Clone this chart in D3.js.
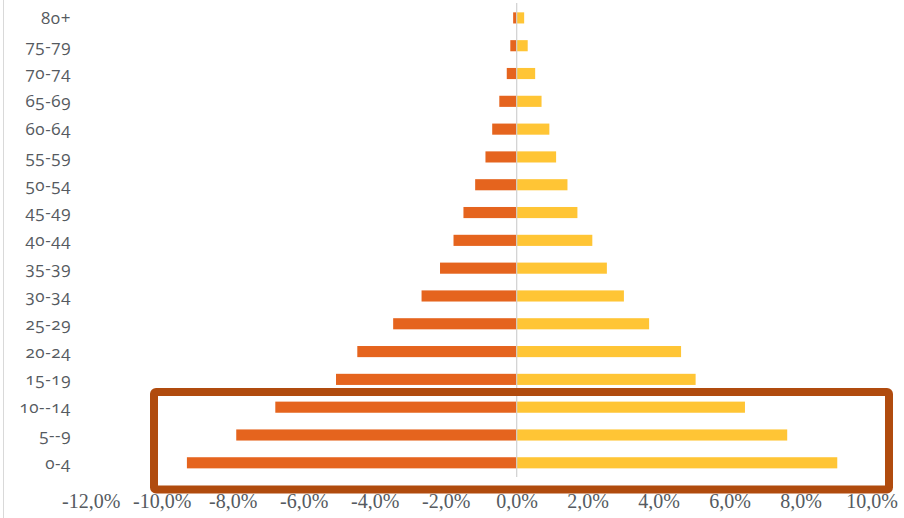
<!DOCTYPE html>
<html><head><meta charset="utf-8">
<script src="https://cdn.jsdelivr.net/npm/d3@7"></script>
<style>
html,body{margin:0;padding:0;background:#fff;}
svg{display:block;}
.cat{font-family:"Open Sans",sans-serif;font-size:17px;fill:#555a60;letter-spacing:0.6px;font-variant-numeric:oldstyle-nums;}
.tick text{font-family:"Liberation Serif",serif;font-size:20px;fill:#555a60;}
</style></head>
<body>
<svg id="c" width="904" height="518"></svg>
<script>
const categories = ["80+","75-79","70-74","65-69","60-64","55-59","50-54","45-49","40-44","35-39","30-34","25-29","20-24","15-19","10--14","5--9","0-4"];
const leftValues  = [-0.10,-0.18,-0.28,-0.49,-0.69,-0.88,-1.17,-1.50,-1.78,-2.16,-2.68,-3.48,-4.49,-5.09,-6.80,-7.90,-9.29];
const rightValues = [0.21,0.31,0.52,0.70,0.92,1.11,1.43,1.71,2.13,2.54,3.02,3.73,4.63,5.04,6.43,7.62,9.03];
const tickValues = [-12,-10,-8,-6,-4,-2,0,2,4,6,8,10];

const svg = d3.select("#c");
const x = d3.scaleLinear().domain([-12,10]).range([90.7,871.7]);
const y = d3.scaleBand().domain(categories).range([4,476.7]).paddingInner(0.6).paddingOuter(0.3);

// chart border line at left
svg.append("line").attr("x1",3.5).attr("x2",3.5).attr("y1",0).attr("y2",518).attr("stroke","#d9d9d9").attr("stroke-width",1);

// bars
svg.append("g").selectAll("rect").data(categories).join("rect")
  .attr("x",(d,i)=>x(leftValues[i])).attr("width",(d,i)=>x(0)-x(leftValues[i]))
  .attr("y",d=>y(d)).attr("height",y.bandwidth()).attr("fill","#e5641e");
svg.append("g").selectAll("rect").data(categories).join("rect")
  .attr("x",x(0)).attr("width",(d,i)=>x(rightValues[i])-x(0))
  .attr("y",d=>y(d)).attr("height",y.bandwidth()).attr("fill","#ffc535");

// zero line
svg.append("line").attr("x1",x(0)).attr("x2",x(0)).attr("y1",3).attr("y2",477)
  .attr("stroke","#d0d0d0").attr("stroke-width",1.2);

// category labels
svg.append("g").selectAll("text").data(categories).join("text").attr("class","cat")
  .attr("x",71).attr("y",d=>y(d)+y.bandwidth()/2).attr("dy","0.35em").attr("text-anchor","end").text(d=>d);

// x axis
const ax = svg.append("g").attr("transform","translate(0,488)")
  .call(d3.axisBottom(x).tickValues(tickValues).tickSize(0).tickPadding(0)
    .tickFormat(d=>d3.format(".1f")(d).replace(".",",").replace("−","-")+"%"));
ax.select(".domain").remove();
ax.selectAll("text").attr("dy","0").attr("y",20);

// highlight box
svg.append("rect").attr("x",154).attr("y",392).attr("width",735).attr("height",97.5)
  .attr("rx",2).attr("fill","none").attr("stroke","#b04b0e").attr("stroke-width",8);
</script>
</body></html>
